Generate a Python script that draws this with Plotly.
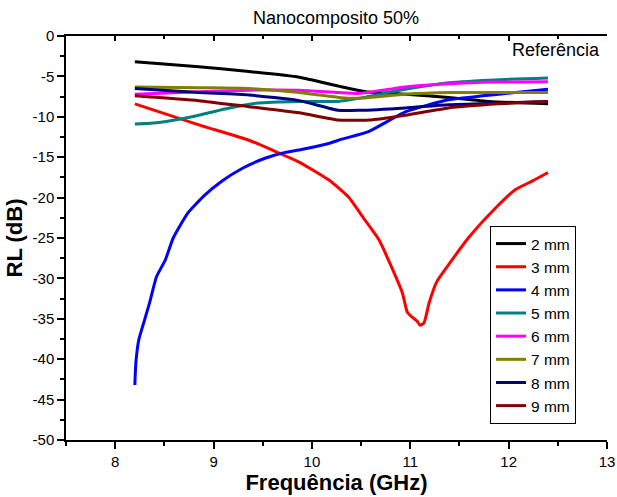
import plotly.graph_objects as go

# (frequency in GHz, RL in dB)
f_2mm = [8.2, 8.85, 9.36, 9.87, 10.27, 10.55, 10.95, 11.39, 11.8, 12.4]
rl_2mm = [-3.2, -3.8, -4.4, -5.1, -6.2, -6.9, -7.2, -7.6, -8.1, -8.4]

f_3mm = [8.2, 8.85, 9.36, 9.63, 9.87, 10.17, 10.37, 10.54, 10.68, 10.81, 10.92,
         10.97, 11.02, 11.07, 11.1, 11.14, 11.19, 11.27, 11.39, 11.59, 11.85,
         12.07, 12.25, 12.4]
rl_3mm = [-8.4, -11.0, -12.9, -14.3, -15.6, -17.8, -19.9, -22.8, -25.2, -28.6,
          -31.8, -34.2, -34.8, -35.3, -35.8, -35.5, -33.1, -30.4, -28.3, -25.0,
          -21.5, -19.0, -17.9, -16.9]

f_4mm = [8.2, 8.21, 8.24, 8.29, 8.35, 8.42, 8.51, 8.59, 8.74, 8.91, 9.08, 9.29,
         9.53, 9.73, 9.87, 10.17, 10.27, 10.58, 10.95, 11.39, 11.9, 12.4]
rl_4mm = [-43.2, -40.5, -37.6, -35.5, -33.0, -29.8, -27.7, -25.0, -21.9, -19.7,
          -18.0, -16.4, -15.1, -14.4, -14.1, -13.3, -12.9, -11.8, -9.4, -7.9,
          -7.2, -6.6]

f_5mm = [8.2, 8.45, 8.85, 9.15, 9.45, 9.87, 10.27, 10.48, 10.95, 11.39, 11.9, 12.4]
rl_5mm = [-10.9, -10.7, -9.8, -8.95, -8.3, -8.1, -8.1, -7.7, -6.6, -5.8, -5.4, -5.2]

f_6mm = [8.2, 8.85, 9.36, 9.87, 10.27, 10.48, 10.95, 11.39, 11.9, 12.4]
rl_6mm = [-7.2, -6.9, -6.7, -6.7, -7.0, -7.1, -6.3, -5.9, -5.7, -5.65]

f_7mm = [8.2, 8.85, 9.36, 9.87, 10.27, 10.48, 10.95, 11.39, 11.9, 12.4]
rl_7mm = [-6.3, -6.4, -6.5, -7.0, -7.6, -7.7, -7.2, -7.0, -7.0, -7.0]

f_8mm = [8.2, 8.85, 9.36, 9.87, 10.27, 10.48, 10.95, 11.39, 11.9, 12.4]
rl_8mm = [-6.5, -7.0, -7.3, -8.0, -9.2, -9.2, -8.9, -8.5, -8.3, -8.1]

f_9mm = [8.2, 8.85, 9.36, 9.87, 10.27, 10.58, 10.95, 11.39, 11.9, 12.4]
rl_9mm = [-7.4, -8.0, -8.75, -9.5, -10.4, -10.4, -9.8, -8.9, -8.4, -8.1]

x_ticks = [8, 9, 10, 11, 12, 13]
y_ticks = [0, -5, -10, -15, -20, -25, -30, -35, -40, -45, -50]

series = [
    ("2 mm", f_2mm, rl_2mm, "#000000"),
    ("3 mm", f_3mm, rl_3mm, "#FF0000"),
    ("4 mm", f_4mm, rl_4mm, "#0000FF"),
    ("5 mm", f_5mm, rl_5mm, "#008080"),
    ("6 mm", f_6mm, rl_6mm, "#FF00FF"),
    ("7 mm", f_7mm, rl_7mm, "#808000"),
    ("8 mm", f_8mm, rl_8mm, "#000080"),
    ("9 mm", f_9mm, rl_9mm, "#800000"),
]

FONT = "Liberation Sans, Arial, sans-serif"

fig = go.Figure()
for name, f, rl, color in series:
    fig.add_trace(go.Scatter(x=f, y=rl, name=name, mode="lines",
                             line=dict(color=color, width=3, shape="spline", smoothing=0.5)))

# dummy trace so the top axis (ticks pointing in) gets drawn
fig.add_trace(go.Scatter(x=[None], y=[None], xaxis="x2", showlegend=False, hoverinfo="skip"))

axis_common = dict(showline=True, linecolor="black", linewidth=1.5, showgrid=False,
                   zeroline=False, tickcolor="black", tickwidth=1.5, automargin=False)

fig.update_layout(
    width=617, height=497,
    margin=dict(l=66, r=10, t=36, b=57),
    paper_bgcolor="white", plot_bgcolor="white",
    font=dict(family=FONT, color="black", size=15),
    title=dict(text="Nanocomposito 50%", x=336 / 617, xanchor="center",
               y=1 - 18 / 497, yanchor="middle", yref="container",
               font=dict(size=18, family=FONT)),
    xaxis=dict(range=[7.5, 13], tickmode="array", tickvals=x_ticks,
               ticktext=[str(v) for v in x_ticks], ticks="outside", ticklen=7,
               minor=dict(dtick=0.5, ticks="outside", ticklen=4, tickcolor="black", tickwidth=1.5),
               title=dict(text="<b>Frequência (GHz)</b>", font=dict(size=22), standoff=4),
               **axis_common),
    xaxis2=dict(range=[7.5, 13], overlaying="x", side="top", dtick=1, ticks="inside",
                ticklen=5, showticklabels=False,
                minor=dict(dtick=0.5, ticks="inside", ticklen=3, tickcolor="black", tickwidth=1.5),
                **axis_common),
    yaxis=dict(range=[-50, 0], tickmode="array", tickvals=y_ticks,
               ticktext=[str(v) for v in y_ticks], ticks="outside", ticklen=7,
               minor=dict(dtick=2.5, ticks="outside", ticklen=4, tickcolor="black", tickwidth=1.5),
               title=dict(text="<b>RL (dB)</b>", font=dict(size=22), standoff=4),
               **axis_common),
    legend=dict(x=(490 - 66) / 541, y=(440 - 226) / 404, xanchor="left", yanchor="top",
                bordercolor="black", borderwidth=1, bgcolor="white",
                font=dict(size=15.5), tracegroupgap=0,
                entrywidth=60, entrywidthmode="pixels"),
    annotations=[dict(text="Referência", xref="paper", yref="paper",
                      x=(602 - 66) / 541, y=(440 - 50) / 404, xanchor="right",
                      yanchor="middle", showarrow=False, font=dict(size=18))],
)

# the page body has a default 8px margin; drop it so the figure fills the window
fig.write_html("out.html", config={"displayModeBar": False},
               post_script="document.body.style.margin='0px';")
